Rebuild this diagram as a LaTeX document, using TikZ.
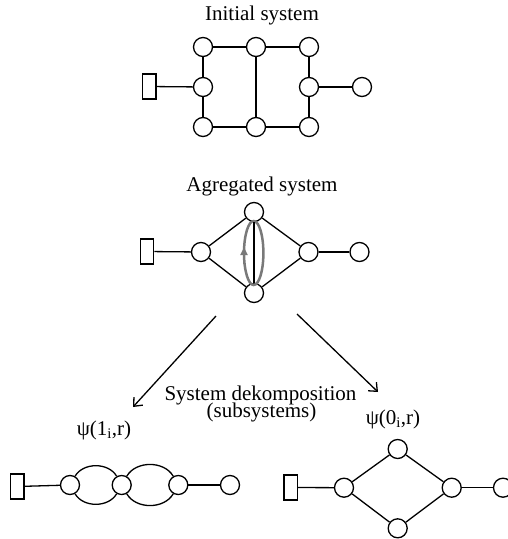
\documentclass[tikz,border=0pt]{standalone}
\usepackage{fontspec}
\setmainfont{Liberation Serif}
\usetikzlibrary{arrows.meta}
\begin{document}
\begin{tikzpicture}[x=1pt,y=-1pt,
  line width=1.3pt,
  circ/.style={circle,draw,minimum size=19pt,inner sep=0pt},
  sbox/.style={rectangle,draw,minimum width=13.3pt,minimum height=25pt,inner sep=0pt},
  lbl/.style={inner sep=0pt,anchor=base,font=\fontsize{21}{22}\selectfont},
  bigarrow/.style={-{Straight Barb[length=7pt,width=12pt,line width=1.3pt]}},
  loopline/.style={draw=gray!95!black,line width=2.5pt}]
\useasboundingbox (0,0) rectangle (508,539);

% ---------- Initial system ----------
\node[lbl] (t1) at (262,20.5) {Initial system};
\node[sbox] (r1) at (149.4,86.5) {};
\node[circ] (a1) at (203,47) {};
\node[circ] (a2) at (256,47) {};
\node[circ] (a3) at (309,47) {};
\node[circ] (a4) at (203,87) {};
\node[circ] (a5) at (309,87) {};
\node[circ] (a6) at (203,127) {};
\node[circ] (a7) at (256,127) {};
\node[circ] (a8) at (309,127) {};
\node[circ] (a9) at (362,87) {};
\draw (r1) -- (a4);
\draw (a1) -- (a2); \draw (a2) -- (a3);
\draw (a1) -- (a4); \draw (a4) -- (a6);
\draw (a3) -- (a5); \draw (a5) -- (a8);
\draw (a6) -- (a7); \draw (a7) -- (a8);
\draw (a2) -- (a7);
\draw (a5) -- (a9);

% ---------- Agregated system ----------
\node[lbl] (t2) at (262,191) {Agregated system};
\node[sbox] (r2) at (147,251.5) {};
\node[circ] (g1) at (201,252) {};
\node[circ] (g2) at (254,212) {};
\node[circ] (g3) at (254,293) {};
\node[circ] (g4) at (308.5,252) {};
\node[circ] (g5) at (359.5,252) {};
\draw (r2) -- (g1);
\draw (g1) -- (g2); \draw (g1) -- (g3);
\draw (g2) -- (g4); \draw (g3) -- (g4);
\draw (g4) -- (g5);
\draw[loopline] (253.7,253) ellipse [x radius=9.7, y radius=32];
\draw (g2) -- (g3);
\draw[loopline,-{Triangle[length=8pt,width=7pt]}] (244,264) -- (244,247);

% ---------- arrows ----------
\coordinate (s1) at (216,316);
\coordinate (e1) at (133,407);
\coordinate (s2) at (297,314);
\coordinate (e2) at (378,392);
\draw[bigarrow] (s1) -- (e1);
\draw[bigarrow] (s2) -- (e2);

\node[lbl] (t3) at (260.5,400) {System dekomposition};
\node[lbl] (t4) at (261.5,417.5) {(subsystems)};
\node[lbl] (p1) at (104,435) {ψ(1\textsubscript{i},r)};
\node[lbl] (p0) at (393,424) {ψ(0\textsubscript{i},r)};

% ---------- subsystem psi(1) ----------
\node[sbox] (r3) at (17.3,486.5) {};
\node[circ] (b1) at (70,485) {};
\node[circ] (b2) at (121.7,485) {};
\node[circ] (b3) at (178.3,485) {};
\node[circ] (b4) at (230,485) {};
\draw (r3) -- (b1);
\draw (b1) to[out=60,in=120] (b2);
\draw (b1) to[out=-60,in=-120] (b2);
\draw (b2) to[out=60,in=120] (b3);
\draw (b2) to[out=-60,in=-120] (b3);
\draw (b3) -- (b4);

% ---------- subsystem psi(0) ----------
\node[sbox] (r4) at (290.7,487.5) {};
\node[circ] (c1) at (344,487.7) {};
\node[circ] (c2) at (397.7,449) {};
\node[circ] (c3) at (397.7,528.3) {};
\node[circ] (c4) at (451.7,487.7) {};
\node[circ] (c5) at (503,487.7) {};
\draw (r4) -- (c1);
\draw (c1) -- (c2); \draw (c1) -- (c3);
\draw (c2) -- (c4); \draw (c3) -- (c4);
\draw (c4) -- (c5);
\end{tikzpicture}
\end{document}
